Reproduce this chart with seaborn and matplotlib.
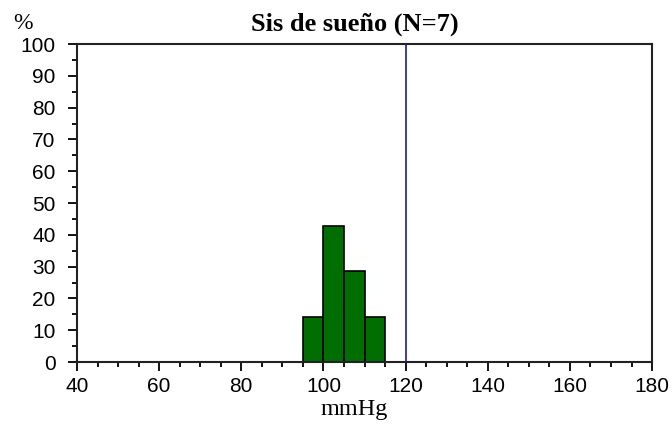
import numpy as np
import pandas as pd
import matplotlib
matplotlib.use("Agg")
import matplotlib.pyplot as plt
import seaborn as sns
from matplotlib.ticker import MultipleLocator

# datos: presión sistólica durante el sueño, N=7
bin_edges = [95, 100, 105, 110, 115]
bin_mids = [97.5, 102.5, 107.5, 112.5]
counts = [1, 3, 2, 1]
ref_line = 120
title = "Sis de sueño (N=7)"

df = pd.DataFrame({"mmHg": bin_mids, "n": counts})

sns.set_theme(style="ticks")
plt.rcParams["font.family"] = ["Liberation Sans", "DejaVu Sans"]

fig = plt.figure(figsize=(6.72, 4.24), dpi=100)
ax = fig.add_axes([0.1146, 0.1462, 0.8557, 0.7500])

sns.histplot(data=df, x="mmHg", weights="n", bins=bin_edges, stat="percent",
             color="#006e00", alpha=1, edgecolor="black", linewidth=1.2, ax=ax)
ax.axvline(ref_line, color="#1a1aa6", linewidth=1.2)

ax.set_xlim(40, 180)
ax.set_ylim(0, 100)
ax.xaxis.set_major_locator(MultipleLocator(20))
ax.xaxis.set_minor_locator(MultipleLocator(5))
ax.yaxis.set_major_locator(MultipleLocator(10))
ax.yaxis.set_minor_locator(MultipleLocator(5))
ax.tick_params(which="major", length=6.5, width=1.3, labelsize=15, colors="black")
ax.tick_params(which="minor", length=3.6, width=1.3, colors="black")
ax.tick_params(axis="y", which="major", pad=9)
ax.tick_params(axis="x", which="major", pad=4)
for s in ax.spines.values():
    s.set_linewidth(1.5)
    s.set_color("#222222")

ax.set_xlabel("")
ax.set_ylabel("")
fig.text(0.527, 0.021, "mmHg", ha="center", va="baseline", fontsize=17.5,
         family="Liberation Serif", color="black")
fig.text(0.019, 0.932, "%", ha="left", va="baseline", fontsize=17,
         family="Liberation Serif", color="black")
fig.text(0.528, 0.929, title, ha="center", va="baseline", fontsize=19,
         family="Liberation Serif", fontweight="bold", color="black")

fig.savefig("out.png", dpi=100)
